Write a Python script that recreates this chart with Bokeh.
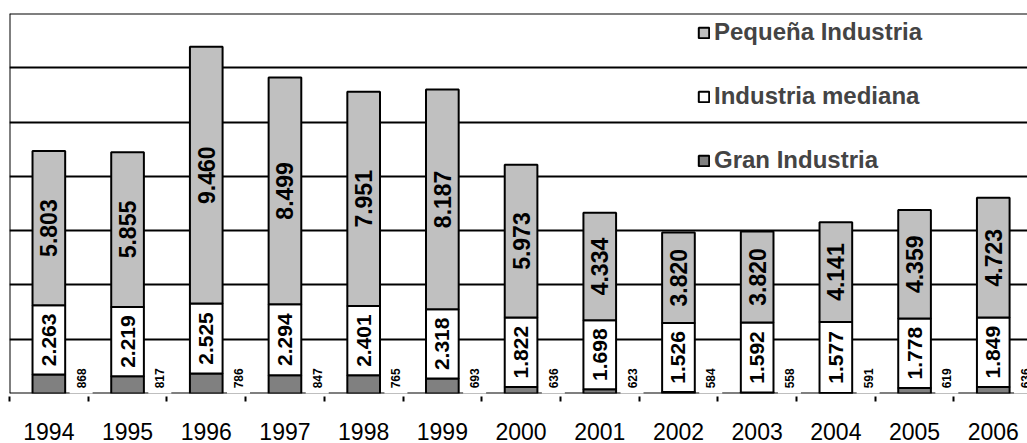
import math
from bokeh.plotting import figure
from bokeh.models import (ColumnDataSource, FixedTicker, Span, Legend, LegendItem,
                          Range1d, Grid)
from bokeh.core.properties import value
from bokeh.embed import file_html
from bokeh.resources import INLINE

years = ["1994", "1995", "1996", "1997", "1998", "1999", "2000",
         "2001", "2002", "2003", "2004", "2005", "2006"]

# values printed on the chart
gran = [868, 817, 786, 847, 765, 693, 636, 623, 584, 558, 591, 619, 636]
mediana = [2263, 2219, 2525, 2294, 2401, 2318, 1822, 1698, 1526, 1592, 1577, 1778, 1849]
pequena = [5803, 5855, 9460, 8499, 7951, 8187, 5973, 4334, 3820, 3820, 4141, 4359, 4723]

# segment heights as drawn in the picture
gran_bar = [700, 637, 737, 674, 674, 553, 243, 158, 59, 37, 20, 206, 243]
mediana_bar = [2553, 2553, 2579, 2616, 2553, 2553, 2557, 2542, 2542, 2579, 2618, 2557, 2557]
pequena_bar = [5681, 5701, 9455, 8350, 7890, 8092, 5631, 3955, 3329, 3354, 3671, 3993, 4408]

series = ["Gran Industria", "Industria mediana", "Pequeña Industria"]
colors = ["#808080", "#FFFFFF", "#C0C0C0"]

FONT = "Liberation Sans"


def fmt(v):
    return f"{v:,}".replace(",", ".")


xs = list(range(len(years)))
src = ColumnDataSource(dict(
    x=xs,
    gran_bar=gran_bar,
    mediana_bar=mediana_bar,
    pequena_bar=pequena_bar,
))

p = figure(width=1027, height=443,
           x_range=Range1d(-0.5, 12.435), y_range=Range1d(0, 14000),
           output_backend="svg", toolbar_location=None,
           y_axis_location=None,
           min_border_left=9, min_border_right=0,
           min_border_top=13, min_border_bottom=50)
p.outline_line_color = None
p.background_fill_color = "white"
p.xgrid.grid_line_color = None

grid = Grid(dimension=1, ticker=FixedTicker(ticks=[2000, 4000, 6000, 8000, 10000, 12000]),
            grid_line_color="black", grid_line_width=2)
p.add_layout(grid)

p.add_layout(Span(location=14000, dimension="width", line_color="black",
                  line_width=2, level="underlay"))
p.add_layout(Span(location=0, dimension="width", line_color="black",
                  line_width=2, level="underlay"))
p.add_layout(Span(location=-0.5, dimension="height", line_color="black",
                  line_width=2, level="underlay"))

renderers = p.vbar_stack(["gran_bar", "mediana_bar", "pequena_bar"], x="x", width=0.415,
                         source=src, color=colors, line_color="black", line_width=2)
for r in renderers:
    r.glyph.line_color = "black"

# labels
white_y = [g + m / 2 for g, m in zip(gran_bar, mediana_bar)]
gray_y = [g + m + q / 2 for g, m, q in zip(gran_bar, mediana_bar, pequena_bar)]

lab_src = ColumnDataSource(dict(
    x=xs,
    wy=white_y, wt=[fmt(v) for v in mediana],
    gy=gray_y, gt=[fmt(v) for v in pequena],
    sx=[x + 0.41 for x in xs], sy=[560] * len(xs), st=[str(v) for v in gran],
))

p.text(x="x", y="wy", text="wt", source=lab_src, angle=math.pi / 2,
       text_font=value(FONT), text_font_size="21px", text_font_style="bold",
       text_align="center", text_baseline="middle", text_color="black")
p.text(x="x", y="gy", text="gt", source=lab_src, angle=math.pi / 2,
       text_font=value(FONT), text_font_size="23px", text_font_style="bold",
       text_align="center", text_baseline="middle", text_color="black")
p.text(x="sx", y="sy", text="st", source=lab_src, angle=math.pi / 2,
       text_font=value(FONT), text_font_size="12px", text_font_style="bold",
       text_align="center", text_baseline="middle", text_color="black",
       background_fill_color="white", padding=7)

ax = p.xaxis[0]
ax.ticker = FixedTicker(ticks=xs, minor_ticks=[x - 0.5 for x in range(len(years) + 1)])
ax.major_label_overrides = {i: y for i, y in enumerate(years)}
ax.major_tick_line_color = None
ax.major_tick_in = 0
ax.major_tick_out = 0
ax.minor_tick_line_color = "black"
ax.minor_tick_line_width = 2
ax.minor_tick_in = -3
ax.minor_tick_out = 8
ax.axis_line_color = None
ax.major_label_standoff = 21
ax.major_label_text_font = FONT
ax.major_label_text_font_size = "23px"
ax.major_label_text_color = "black"

legend = Legend(items=[
    LegendItem(label=series[2], renderers=[renderers[2]]),
    LegendItem(label=series[1], renderers=[renderers[1]]),
    LegendItem(label=series[0], renderers=[renderers[0]]),
], location=(688, 219), orientation="vertical", padding=0, margin=0, spacing=36,
    glyph_width=13, glyph_height=13, label_height=13, label_standoff=4,
    label_text_font=FONT, label_text_font_size="24px", label_text_font_style="bold",
    border_line_alpha=0, background_fill_alpha=0)
p.add_layout(legend)

open("out.html", "w").write(file_html(p, INLINE))
